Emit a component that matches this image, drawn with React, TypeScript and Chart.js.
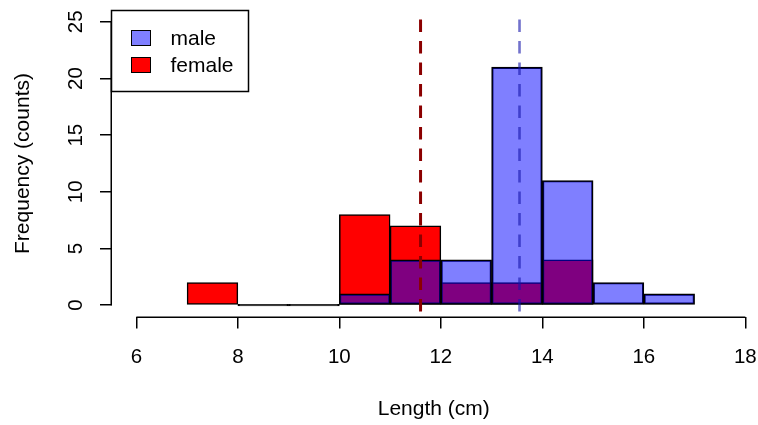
import React, { useEffect, useRef } from "react";
import { Chart, registerables } from "chart.js";

Chart.register(...registerables);

// ---- data ----
const BIN_STARTS_FEMALE = [7, 8, 9, 10, 11, 12, 13, 14];
const FEMALE_COUNTS = [2, 0, 0, 8, 7, 2, 2, 4];
const BIN_STARTS_MALE = [10, 11, 12, 13, 14, 15, 16];
const MALE_COUNTS = [1, 4, 4, 21, 11, 2, 1];
const MEAN_FEMALE = 11.6;
const MEAN_MALE = 13.55;
const X_TICKS = [6, 8, 10, 12, 14, 16, 18];
const Y_TICKS = [0, 5, 10, 15, 20, 25];
const SERIES_LABELS = ["male", "female"];

const X_MIN = 5.52;
const X_MAX = 18.2;
const Y_MIN = -1;
const Y_MAX = 26;

const FONT = "'Liberation Sans', Arial, sans-serif";
const FEMALE_COLOR = "#ff0000";
const MALE_COLOR = "rgba(0,0,255,0.5)";

const rAxesPlugin = {
  id: "rAxes",
  afterDraw(chart: any) {
    const { ctx, chartArea, scales } = chart;
    const xs = scales.x;
    const ys = scales.y;
    ctx.save();
    ctx.strokeStyle = "#000";
    ctx.lineWidth = 1.5;
    ctx.beginPath();
    ctx.moveTo(xs.getPixelForValue(X_TICKS[0]), chartArea.bottom + 0.75);
    ctx.lineTo(xs.getPixelForValue(X_TICKS[X_TICKS.length - 1]), chartArea.bottom + 0.75);
    ctx.moveTo(chartArea.left - 0.75, ys.getPixelForValue(Y_TICKS[0]));
    ctx.lineTo(chartArea.left - 0.75, ys.getPixelForValue(Y_TICKS[Y_TICKS.length - 1]));
    ctx.stroke();

    // legend box (topleft, R style)
    const bx = chartArea.left - 0.5;
    const by = chartArea.top;
    const bw = 137;
    const bh = 81;
    ctx.fillStyle = "#fff";
    ctx.fillRect(bx, by, bw, bh);
    ctx.lineWidth = 1.5;
    ctx.strokeStyle = "#000";
    ctx.strokeRect(bx, by, bw, bh);
    const bars = chart.data.datasets.filter((d: any) => d.type === "bar");
    bars.forEach((d: any, i: number) => {
      const sy = by + 20 + i * 27;
      ctx.fillStyle = "#fff";
      ctx.fillRect(bx + 20, sy, 19, 15);
      ctx.fillStyle = d.legendColor;
      ctx.fillRect(bx + 20, sy, 19, 15);
      ctx.lineWidth = 1;
      ctx.strokeStyle = "#000";
      ctx.strokeRect(bx + 20, sy, 19, 15);
      ctx.fillStyle = "#000";
      ctx.font = `21px ${FONT}`;
      ctx.textBaseline = "middle";
      ctx.textAlign = "left";
      ctx.fillText(d.label, bx + 59, sy + 8.5);
    });
    ctx.restore();
  },
};

export default function App() {
  const ref = useRef<HTMLCanvasElement | null>(null);

  useEffect(() => {
    document.body.style.margin = "0";
    document.body.style.overflow = "hidden";
    const canvas = ref.current;
    if (!canvas) return;

    const maleData = BIN_STARTS_MALE.map((s, i) => ({ x: s + 0.5, y: MALE_COUNTS[i] }));
    const femaleData = BIN_STARTS_FEMALE.map((s, i) => ({ x: s + 0.5, y: FEMALE_COUNTS[i] }));

    const chart = new Chart(canvas, {
      type: "bar",
      data: {
        datasets: [
          {
            type: "bar",
            label: SERIES_LABELS[0],
            data: maleData,
            legendColor: MALE_COLOR,
            backgroundColor: MALE_COLOR,
            borderColor: "#000",
            borderWidth: 1.5,
            borderSkipped: false,
            grouped: false,
            barPercentage: 1,
            categoryPercentage: 1,
            order: 1,
          } as any,
          {
            type: "bar",
            label: SERIES_LABELS[1],
            data: femaleData,
            legendColor: FEMALE_COLOR,
            backgroundColor: (c: any) => (c.raw && c.raw.y === 0 ? "#000" : FEMALE_COLOR),
            borderColor: "#000",
            borderWidth: 1.5,
            borderSkipped: false,
            grouped: false,
            barPercentage: 1,
            categoryPercentage: 1,
            minBarLength: 1.6,
            order: 2,
          } as any,
          {
            type: "line",
            label: "mean female",
            data: [
              { x: MEAN_FEMALE, y: Y_MAX },
              { x: MEAN_FEMALE, y: Y_MIN },
            ],
            borderColor: "#8b0000",
            borderWidth: 3,
            borderDash: [12.5, 9],
            borderDashOffset: 12.5,
            pointRadius: 0,
            order: 0,
          } as any,
          {
            type: "line",
            label: "mean male",
            data: [
              { x: MEAN_MALE, y: Y_MAX },
              { x: MEAN_MALE, y: Y_MIN },
            ],
            borderColor: "rgba(20,20,170,0.6)",
            borderWidth: 2.6,
            borderDash: [12.5, 9],
            borderDashOffset: 12.5,
            pointRadius: 0,
            order: 0,
          } as any,
        ],
      },
      options: {
        responsive: false,
        animation: false,
        events: [],
        layout: { padding: { top: 10.5, right: 2.5, bottom: 0, left: 0 } },
        plugins: {
          legend: { display: false },
          tooltip: { enabled: false },
          title: { display: false },
        },
        scales: {
          x: {
            type: "linear",
            min: X_MIN,
            max: X_MAX,
            offset: false,
            afterBuildTicks: (s: any) => {
              s.ticks = X_TICKS.map((v) => ({ value: v }));
            },
            afterFit: (s: any) => {
              s.height = 108.5;
              s.paddingLeft = 0;
              s.paddingRight = 0;
            },
            grid: {
              display: true,
              offset: false,
              drawOnChartArea: false,
              drawTicks: true,
              tickLength: 12,
              color: "#000",
              lineWidth: 1.5,
            },
            border: { display: false },
            ticks: {
              color: "#000",
              font: { family: FONT, size: 20.5 },
              padding: 17,
              maxRotation: 0,
              minRotation: 0,
              autoSkip: false,
            },
            title: {
              display: true,
              text: "Length (cm)",
              color: "#000",
              font: { family: FONT, size: 21 },
              padding: { top: 0, bottom: 3 },
            },
          },
          y: {
            type: "linear",
            min: Y_MIN,
            max: Y_MAX,
            afterBuildTicks: (s: any) => {
              s.ticks = Y_TICKS.map((v) => ({ value: v }));
            },
            afterFit: (s: any) => {
              s.width = 112;
              s.paddingTop = 0;
              s.paddingBottom = 0;
            },
            grid: {
              display: true,
              offset: false,
              drawOnChartArea: false,
              drawTicks: true,
              tickLength: 12,
              color: "#000",
              lineWidth: 1.5,
            },
            border: { display: false },
            ticks: {
              color: "#000",
              font: { family: FONT, size: 20.5 },
              padding: 12,
              minRotation: 90,
              maxRotation: 90,
              crossAlign: "center",
              autoSkip: false,
            },
            title: {
              display: true,
              text: "Frequency (counts)",
              color: "#000",
              font: { family: FONT, size: 21 },
              padding: { top: 10.5, bottom: 0 },
            },
          },
        },
      } as any,
      plugins: [rAxesPlugin],
    });

    return () => chart.destroy();
  }, []);

  return <canvas ref={ref} width={758} height={425} style={{ display: "block" }} />;
}
